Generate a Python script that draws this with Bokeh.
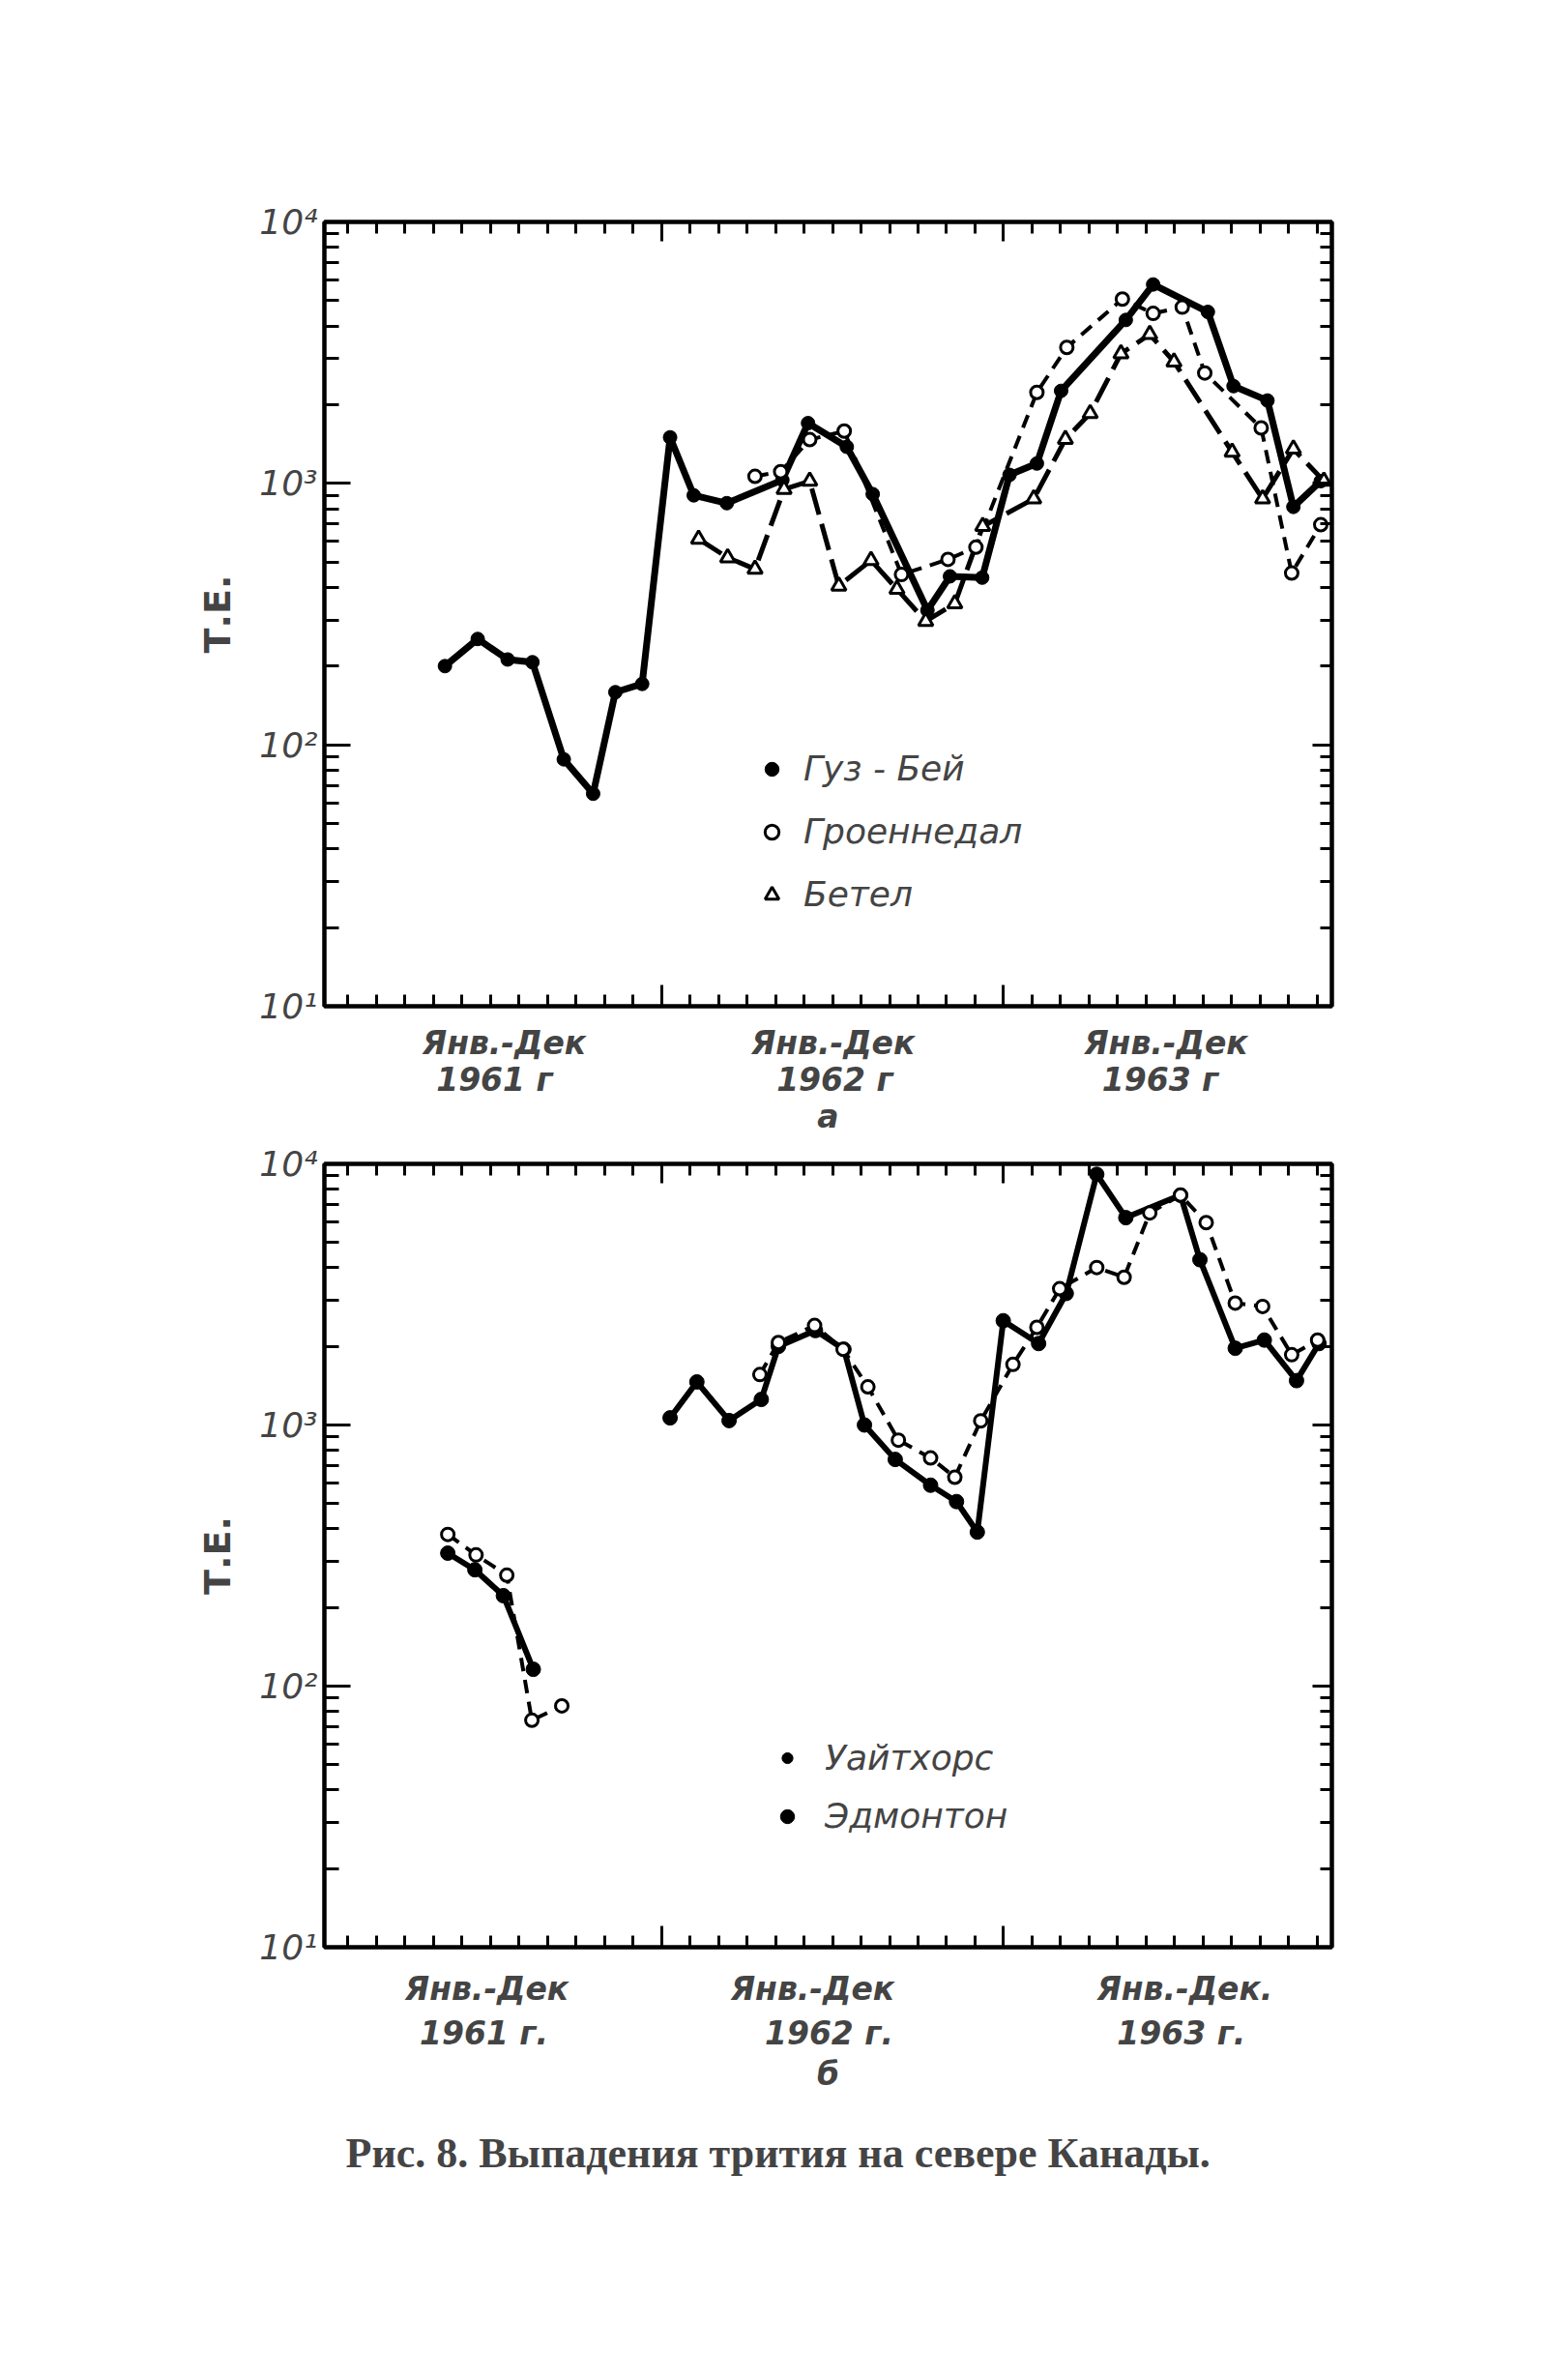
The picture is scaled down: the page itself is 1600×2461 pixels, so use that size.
from bokeh.plotting import figure
from bokeh.models import (Range1d, LinearAxis, LogAxis, FixedTicker, Legend,
                          LegendItem, Title)
from bokeh.layouts import column
from bokeh.embed import file_html
from bokeh.resources import INLINE

# ---------------- data (x = months since Jan 1961, y = tritium units) -------------
# Panel a
goose_x = [4.4, 5.55, 6.6, 7.47, 8.57, 9.6, 10.38, 11.32, 12.3, 13.13, 14.29, 16.24,
           17.14, 18.5, 19.41, 21.33, 22.12, 23.25, 24.21, 25.17, 26.02, 28.29,
           29.25, 31.17, 32.07, 33.26, 34.17, 35.13]
goose_y = [200, 254, 212, 207, 88, 65, 159, 171, 1500, 900, 840, 1030,
           1700, 1380, 910, 327, 441, 436, 1078, 1191, 2259, 4218,
           5766, 4527, 2355, 2075, 813, 1020]

groen_x = [15.28, 16.18, 17.2, 18.41, 20.42, 22.05, 23.03, 25.17, 26.22, 28.17,
           29.25, 30.27, 31.06, 33.04, 34.11, 35.13]
groen_y = [1064, 1109, 1470, 1585, 448, 512, 570, 2228, 3311, 5070,
           4467, 4721, 2644, 1630, 454, 695]

bethel_x = [13.3, 14.32, 15.28, 16.3, 17.2, 18.22, 19.35, 20.26, 21.27, 22.29,
            23.27, 25.06, 26.17, 27.04, 28.12, 29.13, 29.98, 32.02, 33.09,
            34.17, 35.24]
bethel_y = [612, 520, 470, 950, 1020, 405, 508, 394, 297, 347,
            685, 873, 1476, 1851, 3133, 3716, 2917, 1318, 873,
            1355, 1021]

# Panel b
edm61_x = [4.5, 5.45, 6.45, 7.5]
edm61_y = [323, 279, 222, 116]
edm_x = [12.3, 13.24, 14.37, 15.5, 16.1, 17.4, 18.4, 19.12, 20.2, 21.44, 22.35,
         23.08, 23.99, 25.23, 26.2, 27.27, 28.29, 30.21, 30.89, 32.13, 33.15,
         34.28, 35.07]
edm_y = [1065, 1462, 1040, 1253, 2000, 2300, 1950, 1000, 738, 588, 509,
         389, 2508, 2051, 3190, 9120, 6225, 7590, 4295, 1968, 2115,
         1479, 2051]

wh61_x = [4.5, 5.49, 6.57, 7.45, 8.5]
wh61_y = [381, 318, 266, 74, 84]
wh_x = [15.45, 16.1, 17.37, 18.37, 19.24, 20.31, 21.44, 22.29, 23.2, 24.33, 25.17,
        25.97, 27.27, 28.23, 29.13, 30.21, 31.11, 32.13, 33.09, 34.11, 35.02]
wh_y = [1560, 2070, 2405, 1950, 1400, 875, 748, 631, 1038, 1706, 2366,
        3326, 4010, 3680, 6490, 7590, 5960, 2930, 2845, 1858, 2113]

# ---------------- axis text ---------------------------------------------------------
month_ticks = list(range(1, 36))
year_bounds = [12, 24]
decades = [10, 100, 1000, 10000]
decade_labels = {10: "10¹", 100: "10²", 1000: "10³", 10000: "10⁴"}
log_minor = [k * 10 ** d for d in (1, 2, 3) for k in range(2, 10)]

a_period_pos = [6.48, 18.02, 29.7]
a_period_txt = ["Янв.-Дек", "Янв.-Дек", "Янв.-Дек"]
a_year_pos = [6.14, 18.08, 29.5]
a_year_txt = ["1961 г", "1962 г", "1963 г"]

b_period_pos = [5.87, 17.3, 30.36]
b_period_txt = ["Янв.-Дек", "Янв.-Дек", "Янв.-Дек."]
b_year_pos = [5.77, 17.88, 30.24]
b_year_txt = ["1961 г.", "1962 г.", "1963 г."]

FONT = "DejaVu Sans"
XFS = "33px"


def make_fig(height, top, bottom):
    p = figure(width=1477, height=height, output_backend="svg", toolbar_location=None,
               x_range=Range1d(0.17, 35.52), y_range=Range1d(10, 10000),
               y_axis_type="log", x_axis_location=None, y_axis_location=None,
               min_border_left=335, min_border_right=100,
               min_border_top=top, min_border_bottom=bottom)
    p.grid.visible = False
    p.outline_line_color = "black"
    p.outline_line_width = 4
    p.background_fill_color = "white"
    p.border_fill_color = "white"
    return p


def frame_axes(p, period_pos, period_txt, year_pos, year_txt, letter,
               st_period, st_year, st_letter):
    common = dict(major_tick_out=0, minor_tick_out=0, axis_line_width=4,
                  major_tick_line_width=3, minor_tick_line_width=3)
    bottom = LinearAxis(ticker=FixedTicker(ticks=year_bounds, minor_ticks=month_ticks),
                        major_tick_in=22, minor_tick_in=12,
                        major_label_overrides={12: "", 24: ""},
                        major_label_text_font_size="0px", major_label_standoff=0, **common)
    p.add_layout(bottom, "below")
    ax2 = LinearAxis(ticker=FixedTicker(ticks=period_pos, minor_ticks=[]),
                     major_label_overrides=dict(zip(period_pos, period_txt)),
                     axis_line_color=None, major_tick_line_color=None,
                     minor_tick_line_color=None, major_label_standoff=st_period,
                     major_label_text_font=FONT, major_label_text_font_style="bold italic",
                     major_label_text_font_size=XFS)
    p.add_layout(ax2, "below")
    ax3 = LinearAxis(ticker=FixedTicker(ticks=year_pos, minor_ticks=[]),
                     major_label_overrides=dict(zip(year_pos, year_txt)),
                     axis_line_color=None, major_tick_line_color=None,
                     minor_tick_line_color=None, major_label_standoff=st_year,
                     major_label_text_font=FONT, major_label_text_font_style="bold italic",
                     major_label_text_font_size=XFS,
                     axis_label=letter, axis_label_standoff=st_letter,
                     axis_label_text_font=FONT, axis_label_text_font_style="bold italic",
                     axis_label_text_font_size=XFS)
    p.add_layout(ax3, "below")
    top = LinearAxis(ticker=FixedTicker(ticks=year_bounds, minor_ticks=month_ticks),
                     major_tick_in=20, minor_tick_in=12,
                     major_label_overrides={12: "", 24: ""},
                     major_label_text_font_size="0px", major_label_standoff=0, **common)
    p.add_layout(top, "above")
    left = LogAxis(ticker=FixedTicker(ticks=decades, minor_ticks=log_minor),
                   major_tick_in=27, minor_tick_in=15,
                   major_label_overrides=decade_labels, major_label_standoff=7,
                   major_label_text_font=FONT, major_label_text_font_style="italic",
                   major_label_text_font_size="36px",
                   axis_label="Т.Е.", axis_label_standoff=18,
                   axis_label_text_font=FONT, axis_label_text_font_style="bold",
                   axis_label_text_font_size="38px", **common)
    p.add_layout(left, "left")
    right = LogAxis(ticker=FixedTicker(ticks=decades, minor_ticks=log_minor),
                    major_tick_in=20, minor_tick_in=12,
                    major_label_overrides={10: "", 100: "", 1000: "", 10000: ""},
                    major_label_text_font_size="0px", major_label_standoff=0, **common)
    p.add_layout(right, "right")


def legend_style():
    return dict(padding=0, margin=0, label_text_font=FONT, label_text_font_style="italic",
                label_text_font_size="36px", border_line_color=None,
                background_fill_alpha=0, inactive_fill_alpha=0)


# ---------------- panel a -------------------------------------------------------------
pa = make_fig(1182, 229, 142)
frame_axes(pa, a_period_pos, a_period_txt, a_year_pos, a_year_txt, "а", 12, -10, -4)

pa.line(goose_x, goose_y, line_width=7, line_color="black", line_join="round")
gb_pts = pa.scatter(goose_x, goose_y, marker="circle", size=14, fill_color="black",
                    line_color="black")
pa.line(bethel_x, bethel_y, line_width=5, line_color="black", line_dash="28 10",
        line_join="round")
pa.line(groen_x, groen_y, line_width=4, line_color="black", line_dash="14 9",
        line_join="round")
be_pts = pa.scatter(bethel_x, bethel_y, marker="triangle", size=15, fill_color="white",
                    line_color="black", line_width=3)
gr_pts = pa.scatter(groen_x, groen_y, marker="circle", size=13, fill_color="white",
                    line_color="black", line_width=3)

leg_a = Legend(items=[LegendItem(label="Гуз - Бей", renderers=[gb_pts]),
                      LegendItem(label="Гроеннедал", renderers=[gr_pts]),
                      LegendItem(label="Бетел", renderers=[be_pts])],
               location=(445, 95), glyph_width=36, glyph_height=36, label_height=36,
               spacing=24, label_standoff=15, **legend_style())
pa.add_layout(leg_a)

# ---------------- panel b -------------------------------------------------------------
pb = make_fig(1131, 21, 300)
frame_axes(pb, b_period_pos, b_period_txt, b_year_pos, b_year_txt, "б", 17, -2, 0)

pb.line(wh61_x, wh61_y, line_width=4, line_color="black", line_dash="14 9",
        line_join="round")
pb.line(wh_x, wh_y, line_width=4, line_color="black", line_dash="14 9",
        line_join="round")
pb.line(edm61_x, edm61_y, line_width=6, line_color="black", line_join="round")
pb.line(edm_x, edm_y, line_width=6, line_color="black", line_join="round")
pb.scatter(edm61_x, edm61_y, marker="circle", size=15, fill_color="black",
           line_color="black")
edm_pts = pb.scatter(edm_x, edm_y, marker="circle", size=15, fill_color="black",
                     line_color="black")
pb.scatter(wh61_x, wh61_y, marker="circle", size=13, fill_color="white",
           line_color="black", line_width=3)
pb.scatter(wh_x, wh_y, marker="circle", size=13, fill_color="white",
           line_color="black", line_width=3)

# legend key for Уайтхорс is printed as a small dot: hidden renderer of the same data
wh_key = pb.scatter(wh_x, wh_y, marker="circle", size=10, fill_color="black",
                    line_color="black", visible=False)
leg_b1 = Legend(items=[LegendItem(label="Уайтхорс", renderers=[wh_key])],
                location=(465, 175), glyph_width=28, glyph_height=41, label_height=36,
                spacing=0, label_standoff=25, **legend_style())
leg_b2 = Legend(items=[LegendItem(label="Эдмонтон", renderers=[edm_pts])],
                location=(461, 115), glyph_width=36, glyph_height=36, label_height=36,
                spacing=0, label_standoff=21, **legend_style())
pb.add_layout(leg_b1)
pb.add_layout(leg_b2)

pb.add_layout(Title(text="Рис. 8. Выпадения трития на севере Канады.",
                    text_font="Liberation Serif", text_font_style="bold",
                    text_font_size="44px", align="left", offset=22, standoff=66),
              "below")

layout = column(pa, pb, spacing=0)
open("out.html", "w").write(file_html(layout, INLINE, title="Рис. 8"))
